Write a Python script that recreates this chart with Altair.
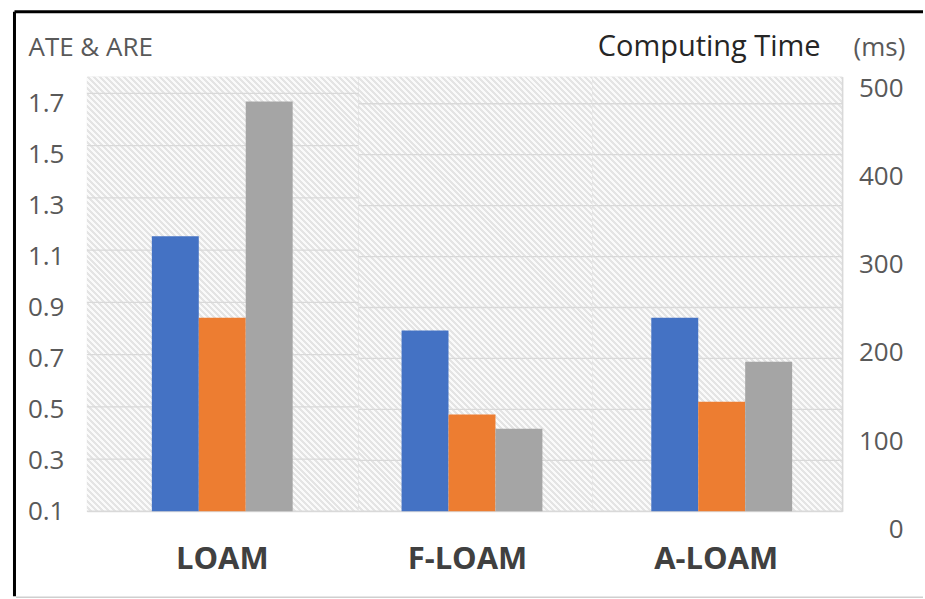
import altair as alt
import pandas as pd

# --- chart values -----------------------------------------------------------
categories = ["LOAM", "F-LOAM", "A-LOAM"]
ate_values = [1.18, 0.81, 0.86]      # blue, left axis
are_values = [0.86, 0.48, 0.53]      # orange, left axis
time_ms = [485, 114, 190]            # gray, right axis (ms)
error_ticks = [0.1, 0.3, 0.5, 0.7, 0.9, 1.1, 1.3, 1.5, 1.7]
time_ticks = [0, 100, 200, 300, 400, 500]

series_order = ["ATE", "ARE", "Time"]
series_colors = ["#4472C4", "#ED7D31", "#A5A5A5"]

# --- layout / style ---------------------------------------------------------
FONT = "Open Sans"
PLOT_H = 435
panel_widths = [272, 234, 250]
bar_spans = [(65, 206), (43, 175), (59, 189)]
grid_tops = [1.764, 1.806, 1.806]
ERR_DOMAIN = [0.1, 1.806]
TIME_RANGE = [453, 11.5]
GRID = "#d9d9d9"
LABEL = "#595959"


def hatch(w, h, pitch=6.0, frac=0.5, bg="#fafafa", ink="#e4e4e4"):
    """Diagonal '\\' stripes as a hard-stop linear gradient over a w x h box."""
    n = int(round((w + h) / pitch))
    k = (w + h) / (w * w + h * h)
    stops = []
    for i in range(n):
        a, b, c = i / n, (i + frac) / n, (i + 1) / n
        stops += [
            alt.GradientStop(color=bg, offset=a),
            alt.GradientStop(color=bg, offset=b),
            alt.GradientStop(color=ink, offset=b),
            alt.GradientStop(color=ink, offset=c),
        ]
    return alt.LinearGradient(
        gradient="linear", stops=stops, x1=0, y1=1, x2=k * w, y2=1 - k * h
    )


def panel(i):
    name = categories[i]
    w = panel_widths[i]
    first, last = i == 0, i == len(categories) - 1

    err_df = pd.DataFrame(
        {"method": [name, name], "series": ["ATE", "ARE"],
         "value": [ate_values[i], are_values[i]]}
    )
    time_df = pd.DataFrame({"method": [name], "series": ["Time"], "value": [time_ms[i]]})
    grid_df = pd.DataFrame({"tick": error_ticks})

    x_enc = alt.X(
        "method:N",
        scale=alt.Scale(range=list(bar_spans[i]), paddingInner=0, paddingOuter=0),
        axis=alt.Axis(
            title=None, ticks=False, domain=False, grid=False, labelAngle=0,
            labelFont=FONT, labelFontSize=31, labelFontWeight="bold",
            labelColor="#404040", labelPadding=57, labelBaseline="alphabetic",
        ),
    )
    x_off = alt.XOffset(
        "series:N", sort=series_order,
        scale=alt.Scale(domain=series_order, paddingInner=0, paddingOuter=0),
    )
    color = alt.Color(
        "series:N", scale=alt.Scale(domain=series_order, range=series_colors),
        legend=None,
    )

    background = alt.Chart(alt.Data(values=[{}])).mark_rect(
        fill=hatch(w, PLOT_H), strokeWidth=0
    ).encode()

    # panel gridlines; the axis only draws the panel's right border
    # (and, on the last panel, the "Computing Time" heading)
    grid_axis = dict(
        orient="right", labels=False, ticks=False, grid=False, title=None,
        domain=True, domainColor=GRID, domainWidth=1.6, zindex=1,
    )
    if last:
        grid_axis.update(
            title="Computing Time", titleFont=FONT, titleFontSize=29,
            titleFontWeight="normal", titleColor="#262626", titleAngle=0,
            titleAlign="right", titleBaseline="alphabetic", titleX=-22, titleY=-21,
        )
    grid = alt.Chart(grid_df).mark_rule(color=GRID, strokeWidth=1.3).encode(
        y=alt.Y(
            "tick:Q",
            scale=alt.Scale(domain=[0.1, grid_tops[i]], nice=False, zero=False),
            axis=alt.Axis(**grid_axis),
        )
    )

    err_axis = None
    if first:
        err_axis = alt.Axis(
            orient="left", values=error_ticks, format=".1f", grid=False,
            ticks=False, tickSize=0, domain=False, labelFont=FONT,
            labelFontSize=26, labelColor=LABEL, labelPadding=23,
            title="ATE & ARE", titleFont=FONT, titleFontSize=26,
            titleFontWeight="normal", titleColor=LABEL, titleAngle=0,
            titleAlign="left", titleBaseline="alphabetic", titleX=-59, titleY=-21,
        )
    err_bars = alt.Chart(err_df).mark_bar().encode(
        x=x_enc, xOffset=x_off, color=color,
        y=alt.Y("value:Q", stack=None,
                scale=alt.Scale(domain=ERR_DOMAIN, nice=False, zero=False),
                axis=err_axis),
    )

    time_axis = None
    if last:
        time_axis = alt.Axis(
            orient="right", values=time_ticks, grid=False, ticks=False, tickSize=0,
            domain=False, labelFont=FONT, labelFontSize=26, labelColor=LABEL,
            labelAlign="right", labelPadding=61,
            title="(ms)", titleFont=FONT, titleFontSize=26, titleFontWeight="normal",
            titleColor=LABEL, titleAngle=0, titleAlign="left",
            titleBaseline="alphabetic", titleX=11, titleY=-21,
        )
    time_bars = alt.Chart(time_df).mark_bar(clip=True).encode(
        x=x_enc, xOffset=x_off, color=color,
        y=alt.Y("value:Q", stack=None,
                scale=alt.Scale(domain=[0, 500], range=TIME_RANGE, nice=False),
                axis=time_axis),
    )

    layers = [background, grid, err_bars, time_bars]

    if first:
        one = alt.Data(values=[{}])
        layers += [
            alt.Chart(one).mark_rule(color="black", strokeWidth=3).encode(
                x=alt.value(-72.5), y=alt.value(-65), y2=alt.value(520)),
            alt.Chart(one).mark_rule(color="black", strokeWidth=3).encode(
                x=alt.value(-72.5), x2=alt.value(837), y=alt.value(-65)),
            alt.Chart(one).mark_rule(color="#cfcfcf", strokeWidth=1.5).encode(
                x=alt.value(-71), x2=alt.value(837), y=alt.value(521)),
        ]

    return (
        alt.layer(*layers)
        .resolve_scale(y="independent")
        .properties(width=w, height=PLOT_H)
    )


chart = (
    alt.hconcat(*[panel(i) for i in range(len(categories))], spacing=0, bounds="flush")
    .properties(padding={"left": 12, "top": 9.5, "right": 0, "bottom": 0})
    .configure_view(stroke=None)
    .configure(font=FONT)
)

chart.save("out.html", embed_options={"renderer": "svg", "actions": False})
